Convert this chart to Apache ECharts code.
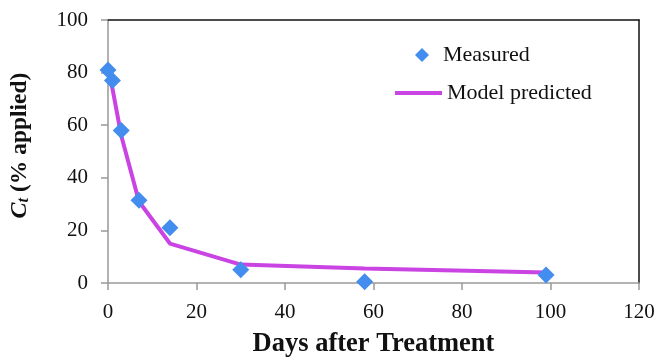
<!DOCTYPE html>
<html>
<head>
<meta charset="utf-8">
<script src="https://cdn.jsdelivr.net/npm/echarts@6/dist/echarts.min.js"></script>
<style>
  html, body { margin: 0; padding: 0; background: #fff; }
  #chart { width: 658px; height: 357px; }
</style>
</head>
<body>
<div id="chart"></div>
<script>
// measured residues (days, % applied)
const measuredDays = [0, 1, 3, 7, 14, 30, 58, 99]
const measuredValues = [81, 77, 58, 31.5, 21, 5, 0.5, 3]

// model prediction
const modelDays = [0, 1, 3, 7, 14, 30, 58, 99]
const modelValues = [80, 74, 56, 31, 15, 7, 5.5, 4]

const xTicks = { min: 0, max: 120, interval: 20 }
const yTicks = { min: 0, max: 100, interval: 20 }

const font = '"Liberation Serif", "Times New Roman", serif'
const blue = '#438dee'
const magenta = '#c944e2'
const chart = echarts.init(document.getElementById('chart'))

const legendText = {
  fontFamily: font,
  fontSize: 22,
  color: '#111'
}

const option = {
  animation: false,
  grid: {
    left: 108,
    right: 19,
    top: 20,
    bottom: 74,
    outerBoundsMode: 'none'
  },
  legend: [
    {
      left: 410,
      top: 39,
      itemWidth: 14,
      itemHeight: 14,
      textStyle: Object.assign({ padding: [0, 0, 0, 9] }, legendText),
      data: [{ name: 'Measured', icon: 'diamond' }]
    },
    {
      left: 390,
      top: 77,
      itemWidth: 47,
      itemHeight: 4,
      textStyle: legendText,
      data: [{ name: 'Model predicted', icon: 'rect' }]
    }
  ],
  xAxis: [
    {
      type: 'value',
      min: xTicks.min,
      max: xTicks.max,
      interval: xTicks.interval,
      name: 'Days after Treatment',
      nameLocation: 'middle',
      nameGap: 48,
      nameTextStyle: {
        fontFamily: font,
        fontSize: 26.5,
        fontWeight: 'bold',
        color: '#111'
      },
      axisLine: { lineStyle: { color: '#999', width: 1.5 } },
      axisTick: { show: true, inside: false, length: 7, lineStyle: { color: '#999', width: 1.5 } },
      axisLabel: { fontFamily: font, fontSize: 21, color: '#111', margin: 19 },
      splitLine: { show: false }
    },
    {
      type: 'value',
      position: 'top',
      min: xTicks.min,
      max: xTicks.max,
      axisLine: { show: true, onZero: false, lineStyle: { color: '#111', width: 1.5 } },
      axisTick: { show: false },
      axisLabel: { show: false },
      splitLine: { show: false }
    }
  ],
  yAxis: [
    {
      type: 'value',
      min: yTicks.min,
      max: yTicks.max,
      interval: yTicks.interval,
      name: '{c|C}{t|t}{n| (% applied)}',
      nameLocation: 'middle',
      nameRotate: 90,
      nameGap: 76,
      nameTextStyle: {
        padding: [0, 0, 0, 12],
        rich: {
          c: { fontFamily: font, fontSize: 24, fontWeight: 'bold', fontStyle: 'italic', color: '#111' },
          t: { fontFamily: font, fontSize: 16, fontWeight: 'bold', fontStyle: 'italic', color: '#111', verticalAlign: 'bottom', padding: [9, 0, 0, 0] },
          n: { fontFamily: font, fontSize: 23.5, fontWeight: 'bold', color: '#111' }
        }
      },
      axisLine: { show: true, lineStyle: { color: '#999', width: 1.5 } },
      axisTick: { show: true, inside: false, length: 7, lineStyle: { color: '#999', width: 1.5 } },
      axisLabel: { fontFamily: font, fontSize: 21, color: '#111', margin: 20 },
      splitLine: { show: false }
    },
    {
      type: 'value',
      position: 'right',
      min: yTicks.min,
      max: yTicks.max,
      axisLine: { show: true, onZero: false, lineStyle: { color: '#111', width: 1.5 } },
      axisTick: { show: false },
      axisLabel: { show: false },
      splitLine: { show: false }
    }
  ],
  series: [
    {
      name: 'Model predicted',
      type: 'line',
      data: modelDays.map((d, i) => [d, modelValues[i]]),
      symbol: 'none',
      itemStyle: { color: magenta },
      lineStyle: { color: magenta, width: 4 },
      z: 2
    },
    {
      name: 'Measured',
      type: 'scatter',
      data: measuredDays.map((d, i) => [d, measuredValues[i]]),
      symbol: 'diamond',
      symbolSize: 17,
      itemStyle: { color: blue, opacity: 1 },
      z: 3
    }
  ]
}

chart.setOption(option)
</script>
</body>
</html>
